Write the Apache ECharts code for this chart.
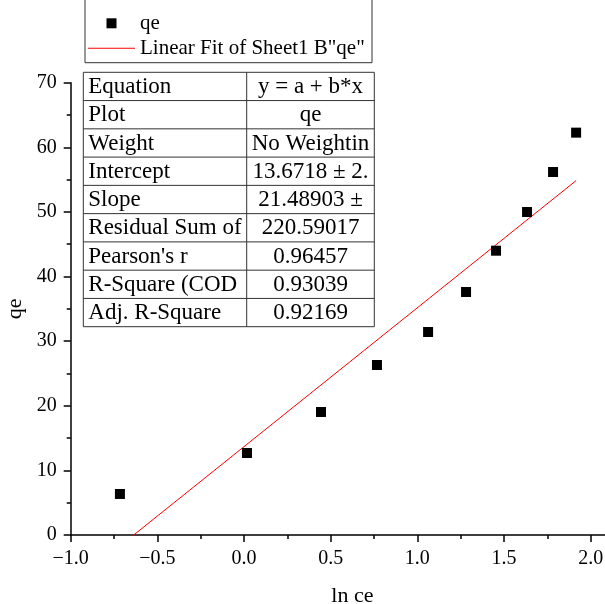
<!DOCTYPE html>
<html><head><meta charset="utf-8">
<script src="https://cdn.jsdelivr.net/npm/echarts@6/dist/echarts.min.js"></script>
<style>html,body{margin:0;padding:0;background:#fff}#c{width:605px;height:604px}</style>
</head><body><div id="c"></div>
<script>
// Data
const lnCe = [-0.716, 0.017, 0.444, 0.767, 1.062, 1.281, 1.454, 1.633, 1.783, 1.916];
const qe = [6.35, 12.69, 19.04, 26.31, 31.42, 37.61, 44.0, 49.99, 56.18, 62.27];
const fitX = [-0.716, 1.916];
const fitY = [-1.71, 54.85];
const seriesNames = ['qe', 'Linear Fit of Sheet1 B"qe"'];
const tableLabels = ['Equation', 'Plot', 'Weight', 'Intercept', 'Slope', 'Residual Sum of', "Pearson's r", 'R-Square (COD', 'Adj. R-Square'];
const tableValues = ['y = a + b*x', 'qe', 'No Weightin', '13.6718 \u00b1 2.', '21.48903 \u00b1', '220.59017', '0.96457', '0.93039', '0.92169'];
const xAxisTitle = 'ln ce';
const yAxisTitle = 'qe';

const FONT = 'Liberation Serif';
const chart = echarts.init(document.getElementById('c'), null, {renderer: 'canvas'});

// table geometry
const tX = 83.3, tY = 72.3, tW = 291, tH = 254.4, colX = 163.4;
const rowH = tH / tableLabels.length;
const tableChildren = [];
tableChildren.push({type: 'rect', shape: {x: 0, y: 0, width: tW, height: tH}, style: {fill: '#fff', stroke: '#333', lineWidth: 1}});
for (let i = 1; i < tableLabels.length; i++) {
  tableChildren.push({type: 'line', shape: {x1: 0, y1: i * rowH, x2: tW, y2: i * rowH}, style: {stroke: '#333', lineWidth: 1}});
}
tableChildren.push({type: 'line', shape: {x1: colX, y1: 0, x2: colX, y2: tH}, style: {stroke: '#333', lineWidth: 1}});
tableLabels.forEach((t, i) => {
  tableChildren.push({type: 'text', x: 5, y: i * rowH + rowH / 2 + 0.5,
    style: {text: t, font: '23px "' + FONT + '"', fill: '#000', verticalAlign: 'middle', align: 'left'}});
});
tableValues.forEach((t, i) => {
  tableChildren.push({type: 'text', x: (colX + tW) / 2, y: i * rowH + rowH / 2 + 0.5,
    style: {text: t, font: '23px "' + FONT + '"', fill: '#000', verticalAlign: 'middle', align: 'center'}});
});

const scatterData = lnCe.map((x, i) => [x, qe[i]]);
const fitData = fitX.map((x, i) => [x, fitY[i]]);

chart.setOption({
  backgroundColor: '#fff',
  animation: false,
  grid: {left: 70.7, top: 82.7, right: -29, bottom: 69, containLabel: false, outerBoundsMode: 'none'},
  legend: {
    orient: 'vertical', left: 88, top: 12.8, padding: 0, itemGap: 4,
    itemWidth: 47, itemHeight: 10,
    selectedMode: false,
    textStyle: {fontFamily: FONT, fontSize: 21, color: '#000', lineHeight: 21},
    data: [
      {name: seriesNames[0], icon: 'path://M0,0h10v10h-10z', itemStyle: {opacity: 1}},
      {name: seriesNames[1], icon: 'path://M0,0h47v1h-47z'}
    ]
  },
  xAxis: {
    type: 'value', min: -1, max: 2.25, interval: 0.5,
    name: xAxisTitle, nameLocation: 'middle', nameGap: 50,
    nameTextStyle: {fontFamily: FONT, fontSize: 22, color: '#000'},
    axisLine: {show: true, onZero: false, lineStyle: {color: '#000', width: 1.5}},
    axisTick: {show: true, length: 7, inside: false, lineStyle: {color: '#000', width: 1.5}},
    minorTick: {show: true, splitNumber: 2, length: 4, lineStyle: {color: '#000', width: 1.5}},
    splitLine: {show: false},
    axisLabel: {fontFamily: FONT, fontSize: 20, color: '#000', margin: 14, showMaxLabel: false,
      formatter: v => (v < 0 ? '\u2212' : '') + Math.abs(v).toFixed(1)}
  },
  yAxis: {
    type: 'value', min: 0, max: 70, interval: 10,
    name: yAxisTitle, nameLocation: 'middle', nameGap: 43,
    nameTextStyle: {fontFamily: FONT, fontSize: 22, color: '#000'},
    axisLine: {show: true, onZero: false, lineStyle: {color: '#000', width: 1.5}},
    axisTick: {show: true, length: 7, inside: false, lineStyle: {color: '#000', width: 1.5}},
    minorTick: {show: true, splitNumber: 2, length: 4, lineStyle: {color: '#000', width: 1.5}},
    splitLine: {show: false},
    axisLabel: {fontFamily: FONT, fontSize: 20, color: '#000', margin: 14}
  },
  series: [
    {name: seriesNames[0], type: 'scatter', symbol: 'rect', symbolSize: 10,
     itemStyle: {color: '#000', opacity: 1}, data: scatterData, z: 3},
    {name: seriesNames[1], type: 'line', symbol: 'none', clip: true,
     lineStyle: {color: '#ff0000', width: 1}, itemStyle: {color: '#ff0000'}, data: fitData, z: 2}
  ],
  graphic: [
    {type: 'polyline', shape: {points: [[85, -2], [85, 62.7], [372, 62.7], [372, -2]]},
     style: {stroke: '#333', lineWidth: 1, fill: null}, z: 1},
    {type: 'group', x: tX, y: tY, children: tableChildren, z: 10}
  ]
});
</script>
</body></html>
